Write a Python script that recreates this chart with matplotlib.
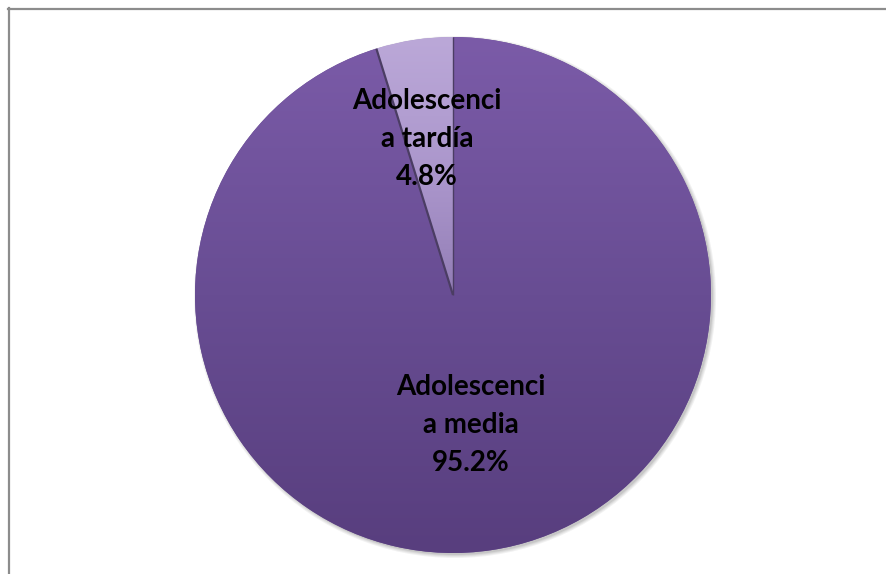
import numpy as np
import matplotlib.pyplot as plt
from matplotlib.lines import Line2D
from matplotlib.colors import LinearSegmentedColormap

labels = ['Adolescenci\na tardía', 'Adolescenci\na media']
values = [4.8, 95.2]
pct_text = ['4.8%', '95.2%']

W, H = 886, 574
fig = plt.figure(figsize=(W / 100, H / 100), dpi=100)
ax = fig.add_axes([0, 0, 1, 1])

cx, cy, r = 453, H - 295, 258

# soft shadow behind the pie
for k, a in enumerate([0.05, 0.05, 0.06, 0.08]):
    sh = plt.Circle((cx + 2, cy - 2), r + 3 - k, color='black', alpha=a, lw=0, zorder=1)
    ax.add_patch(sh)

wedges, _ = ax.pie(values, startangle=90, counterclock=True, center=(cx, cy),
                   radius=r, colors=['#a893c8', '#6a4e95'],
                   wedgeprops=dict(linewidth=0), frame=True)
ax.set_xlim(0, W)
ax.set_ylim(0, H)
ax.set_aspect('equal')
ax.axis('off')

# vertical shading inside each wedge
shades = [
    LinearSegmentedColormap.from_list('light', ['#8f7ab2', '#a994ca', '#bba8d8']),
    LinearSegmentedColormap.from_list('dark', ['#583e7e', '#684d93', '#7b5ba8']),
]
for i, (w, cm) in enumerate(zip(wedges, shades)):
    if i == 0:
        g = np.linspace(0, 1, 256).reshape(-1, 1) ** 0.8
        ext = (cx - r, cx + r, cy, cy + r)
    else:
        g = np.linspace(0, 1, 256).reshape(-1, 1)
        ext = (cx - r, cx + r, cy - r, cy + r)
    im = ax.imshow(g, cmap=cm, extent=ext, origin='lower', aspect='auto', zorder=2,
                   interpolation='bicubic')
    im.set_clip_path(w)

# dark bevel lines along the small slice
ang = np.deg2rad(90 + 360 * values[0] / 100)
for a, lw in [(np.pi / 2, 1.0), (ang, 1.6)]:
    ax.plot([cx, cx + r * np.cos(a)], [cy, cy + r * np.sin(a)],
            color='#4b3d63', lw=lw, zorder=3, solid_capstyle='butt')

# labels
font = dict(family='Lato', weight='bold', fontsize=20, color='black', ha='center',
            va='center', linespacing=1.55, zorder=5)
ax.text(427, H - 139, labels[0] + '\n' + pct_text[0], **font)
ax.text(471, H - 425, labels[1] + '\n' + pct_text[1], **font)

# chart area border (top and left visible)
fig.add_artist(Line2D([8 / W, 885 / W], [1 - 8.5 / H, 1 - 8.5 / H], transform=fig.transFigure,
                      color='#8c8c8c', lw=1.6))
fig.add_artist(Line2D([8.5 / W, 8.5 / W], [0, 1 - 8 / H], transform=fig.transFigure,
                      color='#8c8c8c', lw=1.6))

fig.savefig('out.png', dpi=100, facecolor='white')
